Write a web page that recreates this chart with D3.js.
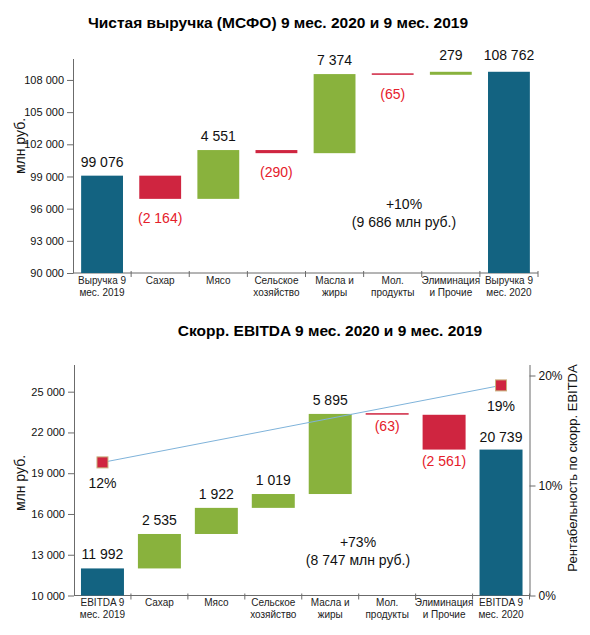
<!DOCTYPE html>
<html><head><meta charset="utf-8">
<script src="https://cdn.jsdelivr.net/npm/d3@7"></script>
<style>
html,body{margin:0;padding:0;background:#fff;}
svg text{font-family:"Liberation Sans",Arial,Helvetica,sans-serif;}
</style></head>
<body><svg id="c" width="590" height="635"></svg>
<script>
// ---------- data ----------
const revenueTitle = "Чистая выручка (МСФО) 9 мес. 2020 и 9 мес. 2019";
const revenueCategories = ["Выручка 9\nмес. 2019","Сахар","Мясо","Сельское\nхозяйство","Масла и\nжиры","Мол.\nпродукты","Элиминация\nи Прочие","Выручка 9\nмес. 2020"];
const revenueSteps = [99076, -2164, 4551, -290, 7374, -65, 279, 108762];
const revenueTicks = [90000, 93000, 96000, 99000, 102000, 105000, 108000];
const revenueNote = ["+10%", "(9 686 млн руб.)"];

const ebitdaTitle = "Скорр. EBITDA 9 мес. 2020 и 9 мес. 2019";
const ebitdaCategories = ["EBITDA 9\nмес. 2019","Сахар","Мясо","Сельское\nхозяйство","Масла и\nжиры","Мол.\nпродукты","Элиминация\nи Прочие","EBITDA 9\nмес. 2020"];
const ebitdaSteps = [11992, 2535, 1922, 1019, 5895, -63, -2561, 20739];
const ebitdaTicks = [10000, 13000, 16000, 19000, 22000, 25000];
const marginCategories = ["EBITDA 9\nмес. 2019", "EBITDA 9\nмес. 2020"];
const marginValues = [0.121, 0.191];
const marginTicks = [0, 0.1, 0.2];
const ebitdaNote = ["+73%", "(8 747 млн руб.)"];

const yLabel = "млн руб.";
const y2Label = "Рентабельность по скорр. EBITDA";

// ---------- style ----------
const C = {blue:"#136381", green:"#89b23d", red:"#cf2540", redText:"#e5202b", axis:"#6b6b6b", text:"#111", line:"#7fb3da"};
const loc = d3.formatLocale({decimal:",", thousands:" ", grouping:[3], currency:["",""]});
const fmt = loc.format(",d");
const pct = d3.format(".0%");

const svg = d3.select("#c");

function waterfall(steps){
  let run = 0;
  return steps.map((v,i)=>{
    if(i===0 || i===steps.length-1){ run = v; return {i, v, lo:0, hi:v, type:"total"}; }
    const a = run; run += v;
    return {i, v, lo:Math.min(a,run), hi:Math.max(a,run), type: v>=0?"up":"down"};
  });
}

function drawChart(o){
  const g = svg.append("g");
  const x = d3.scaleBand().domain(o.cats).range([o.x0,o.x1]).paddingInner(o.pad).paddingOuter(o.pad/2);
  const y = d3.scaleLinear().domain(o.dom).range([o.yb,o.yt]).clamp(true);
  const data = waterfall(o.steps);

  // title
  g.append("text").attr("x",o.titleX).attr("y",o.titleY).attr("text-anchor","middle")
    .attr("font-size",15.5).attr("font-weight","bold").attr("fill","#000").text(o.title);

  // left axis
  const ya = g.append("g").attr("transform",`translate(${o.x0},0)`)
    .call(d3.axisLeft(y).tickValues(o.ticks).tickFormat(fmt).tickSize(6).tickSizeOuter(0));
  ya.select(".domain").attr("stroke",C.axis);
  ya.selectAll(".tick line").attr("stroke",C.axis);
  ya.selectAll(".tick text").attr("font-size",11).attr("fill",C.text).attr("x",-9);

  // y label
  g.append("text").attr("transform",`translate(${o.ylX},${o.ylY}) rotate(-90)`)
    .attr("text-anchor","middle").attr("font-size",14).attr("fill",C.text).text(yLabel);

  // x axis
  g.append("line").attr("x1",o.x0).attr("x2",o.x1).attr("y1",o.yb).attr("y2",o.yb).attr("stroke",C.axis);
  const bounds = o.cats.map(c=>x(c)-x.step()*x.paddingInner()/2).concat([o.x1]);
  g.selectAll(".xt").data(bounds.slice(1)).join("line").attr("x1",d=>d).attr("x2",d=>d)
    .attr("y1",o.yb-2).attr("y2",o.yb+4).attr("stroke",C.axis);
  g.selectAll(".xl").data(o.cats).join("text")
    .attr("text-anchor","middle").attr("font-size",10).attr("fill","#222")
    .attr("transform",c=>`translate(${x(c)+x.bandwidth()/2},${o.yb+10.5})`)
    .each(function(c){
      d3.select(this).selectAll("tspan").data(c.split("\n")).join("tspan")
        .attr("x",0).attr("dy",(d,i)=>i===0?0:12.2).text(d=>d);
    });

  // bars
  g.selectAll(".bar").data(data).join("rect")
    .attr("x",d=>x(o.cats[d.i])).attr("width",x.bandwidth())
    .attr("y",d=>{const h=y(d.lo)-y(d.hi); return h<2 ? y(d.hi)-0.75 : y(d.hi);})
    .attr("height",d=>Math.max(1.5,y(d.lo)-y(d.hi)))
    .attr("fill",d=>d.type==="total"?C.blue:d.type==="up"?C.green:C.red);

  // value labels
  g.selectAll(".vl").data(data).join("text")
    .attr("x",d=>x(o.cats[d.i])+x.bandwidth()/2)
    .attr("y",d=>d.type==="down" ? y(d.lo)+o.negOff : y(d.hi)-(d.i===o.steps.length-1||d.i===o.steps.length-2?o.posOffEnd:9))
    .attr("text-anchor","middle").attr("font-size",14)
    .attr("fill",d=>d.type==="down"?C.redText:C.text)
    .text(d=>d.type==="down"?`(${fmt(-d.v)})`:fmt(d.v));

  // note
  g.selectAll(".note").data(o.note).join("text")
    .attr("x",o.noteX).attr("y",(d,i)=>o.noteY+i*17.5).attr("text-anchor","middle")
    .attr("font-size",14).attr("fill",C.text).text(d=>d);

  return {g,x,y};
}

// ---------- chart 1 ----------
drawChart({title:revenueTitle, titleX:278, titleY:28, cats:revenueCategories, steps:revenueSteps,
  ticks:revenueTicks, dom:[90000,110000], x0:73, x1:538, yb:273, yt:58.5, pad:0.28,
  ylX:25, ylY:146, note:revenueNote, noteX:404, noteY:209, negOff:24, posOffEnd:12});

// ---------- chart 2 ----------
const c2 = drawChart({title:ebitdaTitle, titleX:330, titleY:336, cats:ebitdaCategories, steps:ebitdaSteps,
  ticks:ebitdaTicks, dom:[10000,27000], x0:74, x1:529.5, yb:595.5, yt:364.5, pad:0.245,
  ylX:25, ylY:483, note:ebitdaNote, noteX:358, noteY:547, negOff:16, posOffEnd:8});

// right axis
const y2 = d3.scaleLinear().domain([0,0.21]).range([595.5,364.5]);
const ra = c2.g.append("g").attr("transform","translate(529.5,0)")
  .call(d3.axisRight(y2).tickValues(marginTicks).tickFormat(pct).tickSize(6).tickSizeOuter(0));
ra.select(".domain").attr("stroke",C.axis);
ra.selectAll(".tick line").attr("stroke",C.axis);
ra.selectAll(".tick text").attr("font-size",12).attr("fill",C.text).attr("x",9);
c2.g.append("text").attr("transform","translate(577,468) rotate(-90)").attr("text-anchor","middle")
  .attr("font-size",13).attr("fill",C.text).text(y2Label);

// margin line & markers
const mx = c => c2.x(c)+c2.x.bandwidth()/2;
const mpts = marginCategories.map((c,i)=>({x:mx(c), y:y2(marginValues[i]), v:marginValues[i]}));
c2.g.append("path").attr("d",d3.line().x(d=>d.x).y(d=>d.y)(mpts)).attr("stroke",C.line).attr("stroke-width",1).attr("fill","none");
c2.g.selectAll(".mk").data(mpts).join("rect").attr("x",d=>d.x-5.5).attr("y",d=>d.y-5.5)
  .attr("width",11).attr("height",11).attr("fill",C.red).attr("stroke","#c9b27e").attr("stroke-width",1);
c2.g.selectAll(".ml").data(mpts).join("text").attr("x",d=>d.x).attr("y",d=>d.y+26)
  .attr("text-anchor","middle").attr("font-size",14).attr("fill",C.text).text(d=>pct(d.v));
</script></body></html>
